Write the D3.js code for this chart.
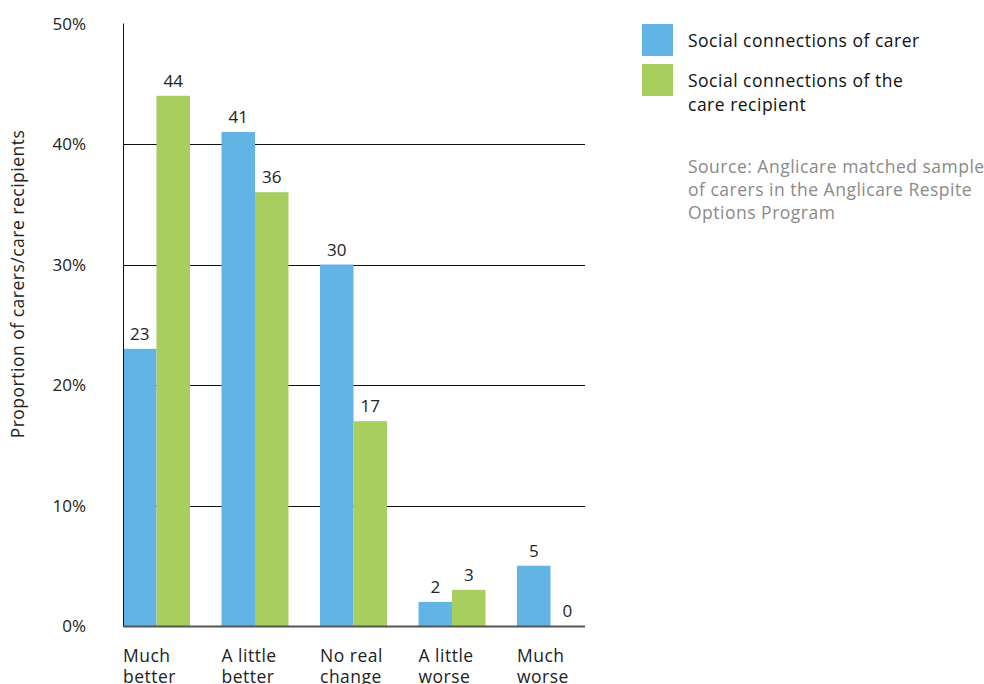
<!DOCTYPE html>
<html>
<head>
<meta charset="utf-8">
<script src="https://cdn.jsdelivr.net/npm/d3@7"></script>
<style>
  html, body { margin: 0; padding: 0; background: #fff; }
  svg { display: block; font-family: "Open Sans", Lato, sans-serif; }
  .wide { letter-spacing: 0.5px; }
</style>
</head>
<body>
<svg id="chart" width="984" height="684"></svg>
<script>
// Outcome categories and the share (%) reporting each, by group
const categories = [["Much", "better"], ["A little", "better"], ["No real", "change"], ["A little", "worse"], ["Much", "worse"]];
const carerValues = [23, 41, 30, 2, 5];
const recipientValues = [44, 36, 17, 3, 0];
const seriesNames = ["Social connections of carer", ["Social connections of the", "care recipient"]];
const yTicks = [0, 10, 20, 30, 40, 50];
const sourceLines = ["Source: Anglicare matched sample", "of carers in the Anglicare Respite", "Options Program"];

const colors = ["#62b4e4", "#a7ce5e"];

const svg = d3.select("#chart");
const plotLeft = 123, plotRight = 584, plotTop = 23.5, plotBottom = 626;

const x = d3.scaleBand()
  .domain(d3.range(categories.length))
  .range([plotLeft, plotRight])
  .paddingInner(0.32)
  .paddingOuter(0)
  .align(0);
const xSub = d3.scaleBand().domain([0, 1]).range([0, x.bandwidth()]);
const y = d3.scaleLinear().domain([0, 50]).range([plotBottom, plotTop]);

// Horizontal gridlines (10%–40%)
svg.append("g").selectAll("line")
  .data(yTicks.filter(t => t > 0 && t < 50))
  .join("line")
  .attr("x1", plotLeft).attr("x2", plotRight + 1)
  .attr("y1", d => Math.round(y(d)) + 0.5).attr("y2", d => Math.round(y(d)) + 0.5)
  .attr("stroke", "#111").attr("stroke-width", 1);

// Bars and value labels
const series = [carerValues, recipientValues];
const g = svg.append("g");
series.forEach((vals, si) => {
  g.selectAll(null)
    .data(vals)
    .join("rect")
    .attr("x", (d, i) => x(i) + xSub(si))
    .attr("width", xSub.bandwidth())
    .attr("y", d => y(d))
    .attr("height", d => plotBottom - y(d))
    .attr("fill", colors[si]);
  g.selectAll(null)
    .data(vals)
    .join("text")
    .attr("x", (d, i) => x(i) + xSub(si) + xSub.bandwidth() / 2)
    .attr("y", d => y(d) - 9)
    .attr("text-anchor", "middle")
    .attr("font-size", 17)
    .attr("fill", "#222")
    .text(d => d);
});

// Axis lines
svg.append("line")
  .attr("x1", plotLeft + 0.5).attr("x2", plotLeft + 0.5)
  .attr("y1", plotTop).attr("y2", plotBottom)
  .attr("stroke", "#111").attr("stroke-width", 1);
svg.append("line")
  .attr("x1", plotLeft).attr("x2", plotRight + 1)
  .attr("y1", plotBottom + 0.5).attr("y2", plotBottom + 0.5)
  .attr("stroke", "#555").attr("stroke-width", 2);

// Y tick labels
svg.append("g").selectAll("text")
  .data(yTicks)
  .join("text")
  .attr("x", 86)
  .attr("y", d => y(d) + 6)
  .attr("text-anchor", "end")
  .attr("font-size", 17)
  .attr("fill", "#222")
  .text(d => d + "%");

// Y axis title
svg.append("text")
  .attr("class", "wide")
  .attr("transform", "translate(24,284) rotate(-90)")
  .attr("text-anchor", "middle")
  .attr("font-size", 17.5)
  .attr("fill", "#222")
  .text("Proportion of carers/care recipients");

// Category labels
const cat = svg.append("g").selectAll("text")
  .data(categories)
  .join("text")
  .attr("class", "wide")
  .attr("x", (d, i) => x(i))
  .attr("y", 662)
  .attr("font-size", 17.5)
  .attr("fill", "#222");
cat.selectAll("tspan")
  .data(d => d)
  .join("tspan")
  .attr("x", function () { return d3.select(this.parentNode).attr("x"); })
  .attr("dy", (d, i) => i === 0 ? 0 : 21)
  .text(d => d);

// Legend
const legend = svg.append("g");
const legendY = [24, 64];
seriesNames.forEach((name, i) => {
  legend.append("rect")
    .attr("x", 642).attr("y", legendY[i])
    .attr("width", 31).attr("height", 32)
    .attr("fill", colors[i]);
  const lines = Array.isArray(name) ? name : [name];
  const t = legend.append("text")
    .attr("class", "wide")
    .attr("x", 688).attr("y", legendY[i] + 23)
    .attr("font-size", 17.5).attr("fill", "#111");
  lines.forEach((l, j) => t.append("tspan").attr("x", 688).attr("dy", j === 0 ? 0 : 24).text(l));
});

// Source note
const src = svg.append("text")
  .attr("class", "wide")
  .attr("x", 688).attr("y", 173)
  .attr("font-size", 17.5).attr("fill", "#8a8a8a");
sourceLines.forEach((l, j) => src.append("tspan").attr("x", 688).attr("dy", j === 0 ? 0 : 23).text(l));
</script>
</body>
</html>
